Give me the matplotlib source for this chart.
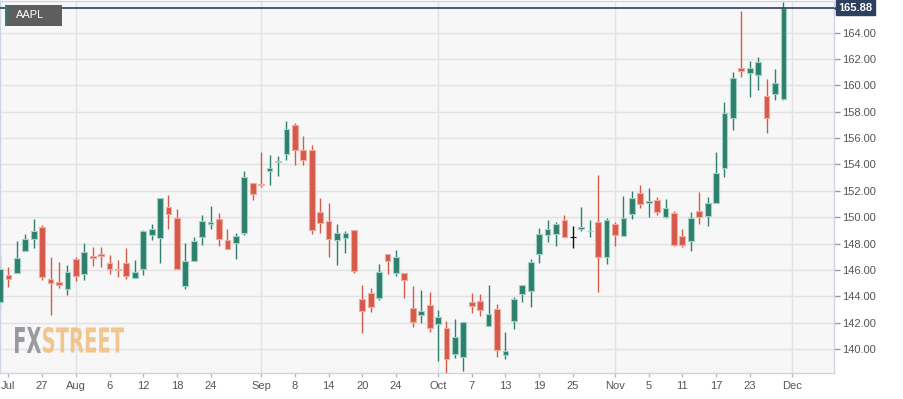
import matplotlib
matplotlib.use("Agg")
import matplotlib.pyplot as plt
import matplotlib.transforms as mtransforms
from matplotlib.textpath import TextPath
from matplotlib.patches import PathPatch, Rectangle
from matplotlib.font_manager import FontProperties

plt.rcParams['font.family'] = ['Liberation Sans', 'DejaVu Sans']

# trading sessions shown on the chart
dates = ["Jul 20", "Jul 21", "Jul 22", "Jul 23", "Jul 26", "Jul 27", "Jul 28", "Jul 29", "Jul 30",
         "Aug 2", "Aug 3", "Aug 4", "Aug 5", "Aug 6", "Aug 9", "Aug 10", "Aug 11", "Aug 12", "Aug 13",
         "Aug 16", "Aug 17", "Aug 18", "Aug 19", "Aug 20", "Aug 23", "Aug 24", "Aug 25", "Aug 26",
         "Aug 27", "Aug 30", "Aug 31",
         "Sep 1", "Sep 2", "Sep 3", "Sep 7", "Sep 8", "Sep 9", "Sep 10", "Sep 13", "Sep 14", "Sep 15",
         "Sep 16", "Sep 17", "Sep 20", "Sep 21", "Sep 22", "Sep 23", "Sep 24", "Sep 27", "Sep 28",
         "Sep 29", "Sep 30",
         "Oct 1", "Oct 4", "Oct 5", "Oct 6", "Oct 7", "Oct 8", "Oct 11", "Oct 12", "Oct 13", "Oct 14",
         "Oct 15", "Oct 18", "Oct 19", "Oct 20", "Oct 21", "Oct 22", "Oct 25", "Oct 26", "Oct 27",
         "Oct 28", "Oct 29",
         "Nov 1", "Nov 2", "Nov 3", "Nov 4", "Nov 5", "Nov 8", "Nov 9", "Nov 10", "Nov 11", "Nov 12",
         "Nov 15", "Nov 16", "Nov 17", "Nov 18", "Nov 19", "Nov 22", "Nov 23", "Nov 24", "Nov 26",
         "Nov 29", "Nov 30"]

opens = [143.54, 145.59, 145.79, 147.46, 148.37, 149.28, 145.31, 145.08, 144.55,
         146.83, 145.67, 147.03, 147.18, 146.50, 146.10, 146.55, 145.39, 146.04, 148.62,
         148.45, 150.77, 149.96, 144.78, 146.68, 148.50, 149.48, 149.84, 148.27,
         148.04, 148.83, 152.57,
         152.55, 153.53, 154.16, 154.77, 157.02, 155.12, 155.07, 150.39, 149.74, 148.27,
         148.42, 149.03, 143.77, 144.22, 143.84, 147.21, 145.79, 145.79, 143.09,
         142.58, 143.34,
         141.90, 141.57, 139.62, 139.42, 143.54, 143.67, 141.77, 143.01, 139.58, 142.15,
         144.17, 144.40, 147.21, 148.65, 148.70, 149.79, 148.52, 149.08, 148.93,
         149.61, 146.95,
         149.48, 148.60, 150.24, 151.81, 151.05, 151.31, 150.04, 150.34, 148.60, 148.19,
         150.47, 150.09, 151.05, 153.71, 157.50, 161.35, 160.97, 160.76, 159.20,
         159.32, 158.97]
highs = [147.06, 146.20, 148.17, 148.73, 149.84, 149.41, 146.95, 146.60, 146.35,
         146.95, 148.02, 147.76, 147.76, 147.11, 146.75, 147.69, 146.73, 149.05, 149.48,
         151.46, 151.68, 150.65, 148.04, 148.47, 150.14, 150.82, 150.32, 149.08,
         148.78, 153.48, 152.57,
         154.97, 154.69, 154.67, 157.30, 157.12, 156.14, 155.45, 151.43, 151.08, 149.46,
         148.95, 149.03, 144.83, 144.60, 146.42, 147.21, 147.51, 145.79, 144.78,
         144.48, 144.35,
         142.96, 142.15, 142.25, 142.07, 144.22, 144.15, 144.83, 143.41, 141.32, 143.97,
         144.83, 146.80, 149.16, 149.79, 149.66, 150.17, 149.36, 150.80, 149.79,
         153.20, 149.91,
         149.66, 151.61, 151.99, 152.44, 152.19, 151.56, 151.38, 150.50, 149.08, 150.37,
         151.89, 151.51, 154.97, 158.72, 161.04, 165.67, 161.85, 162.13, 160.46,
         161.22, 166.30]
lows = [143.01, 144.68, 145.79, 147.46, 147.69, 145.24, 142.58, 144.60, 144.10,
        145.18, 145.24, 146.30, 146.20, 145.69, 145.49, 145.31, 145.39, 145.59, 148.24,
        146.50, 149.08, 146.10, 144.55, 146.68, 147.87, 149.13, 147.79, 147.56,
        146.80, 148.62, 151.28,
        152.32, 152.42, 153.15, 154.34, 153.99, 153.94, 148.70, 148.78, 146.95, 146.37,
        147.26, 145.74, 141.24, 142.78, 143.72, 145.67, 145.54, 143.84, 141.69,
        142.00, 141.32,
        139.11, 138.20, 139.34, 138.36, 142.76, 142.50, 141.77, 139.37, 139.22, 141.52,
        143.54, 143.21, 146.55, 148.14, 147.81, 148.52, 147.64, 148.98, 148.47,
        144.35, 146.45,
        147.81, 148.60, 149.86, 150.67, 150.04, 150.17, 149.91, 147.81, 147.71, 147.46,
        149.48, 149.33, 151.05, 153.02, 156.62, 160.61, 159.09, 159.65, 156.36,
        158.89, 158.87]
closes = [146.04, 145.34, 146.93, 148.32, 148.93, 145.49, 144.98, 144.88, 145.87,
          145.51, 147.33, 146.90, 147.06, 146.10, 145.99, 145.56, 145.84, 148.95, 149.08,
          151.46, 150.24, 146.10, 146.70, 148.17, 149.69, 149.64, 148.35, 147.56,
          148.60, 153.08, 151.79,
          152.42, 153.71, 154.29, 156.69, 155.12, 154.31, 149.03, 149.59, 148.37, 148.83,
          148.78, 145.94, 142.86, 143.21, 145.84, 146.68, 146.95, 145.24, 142.02,
          142.88, 141.57,
          142.40, 139.22, 140.94, 142.07, 143.26, 142.96, 142.66, 139.90, 139.83, 143.79,
          144.83, 146.60, 148.73, 149.08, 149.48, 148.52, 148.52, 149.23, 148.98,
          146.95, 149.79,
          148.67, 149.91, 151.48, 150.98, 151.25, 150.37, 150.67, 147.89, 147.89, 149.96,
          149.99, 151.10, 153.33, 157.93, 160.54, 161.09, 161.30, 161.80, 157.50,
          160.16, 165.88]

# empty sessions to the right of the last candle
future_days = ["Dec 1", "Dec 2", "Dec 3", "Dec 6", "Dec 7", "Dec 8"]
axis_days = dates + future_days

tick_days = ["Jul 21", "Jul 27", "Aug 2", "Aug 6", "Aug 12", "Aug 18", "Aug 24", "Sep 1", "Sep 8",
             "Sep 14", "Sep 20", "Sep 24", "Oct 1", "Oct 7", "Oct 13", "Oct 19", "Oct 25", "Nov 1",
             "Nov 5", "Nov 11", "Nov 17", "Nov 23", "Dec 1"]
tick_labels = ["Jul", "27", "Aug", "6", "12", "18", "24", "Sep", "8", "14", "20", "24", "Oct", "7",
               "13", "19", "25", "Nov", "5", "11", "17", "23", "Dec"]
month_days = ["Aug 2", "Sep 1", "Oct 1", "Nov 1", "Dec 1"]

y_ticks = [140, 142, 144, 146, 148, 150, 152, 154, 156, 158, 160, 162, 164]
last_price = closes[-1]
symbol = "AAPL"

GREEN = "#2e806e"
GREEN_EDGE = "#a3d0c5"
RED = "#d65a4a"
RED_EDGE = "#efaaa1"
NAVY = "#2d4060"

W, H = 904, 399
fig = plt.figure(figsize=(W / 100, H / 100), dpi=100)
ax = fig.add_axes([0.0, 26 / H, 834 / W, 372 / H])
ax.set_facecolor("#f7f7f7")

xs = list(range(len(dates)))
colors, edges = [], []
for o, c in zip(opens, closes):
    if c > o:
        colors.append(GREEN); edges.append(GREEN_EDGE)
    elif c < o:
        colors.append(RED); edges.append(RED_EDGE)
    else:
        colors.append("#111111"); edges.append("#111111")

ax.vlines(xs, lows, highs, colors=colors, linewidth=1.0, zorder=2)
ax.bar(xs, [abs(c - o) for o, c in zip(opens, closes)],
       bottom=[min(o, c) for o, c in zip(opens, closes)],
       width=0.68, color=colors, edgecolor=edges, linewidth=0.8, zorder=3)

ax.axhline(last_price, color=NAVY, linewidth=1.2, zorder=4)

ax.set_xlim(0, axis_days.index("Dec 8"))
ax.set_ylim(138.18, 166.40)

# grid
for d in month_days:
    ax.axvline(axis_days.index(d), color="#e2e2e2", linewidth=1.0, zorder=0)
for v in y_ticks:
    ax.axhline(v, color="#e2e2e2", linewidth=1.0, zorder=0)

ax.set_xticks([axis_days.index(d) for d in tick_days])
ax.set_xticklabels(tick_labels)
ax.yaxis.tick_right()
ax.set_yticks(y_ticks)
ax.set_yticklabels(["%.2f" % v for v in y_ticks])
ax.tick_params(axis="x", length=3, width=1, color="#b8b8b8", labelsize=8, labelcolor="#555555", pad=3)
ax.tick_params(axis="y", length=4, width=1, color="#999999", labelsize=8, labelcolor="#555555", pad=2)
for s in ax.spines.values():
    s.set_color("#cdd4e3")
    s.set_linewidth(1.0)

# last price tag
tr = mtransforms.blended_transform_factory(ax.transAxes, ax.transData)
ax.text(1.005, last_price, "%.2f" % last_price, transform=tr, ha="left", va="center",
        color="white", fontsize=8, fontweight="bold", clip_on=False, zorder=6,
        bbox=dict(boxstyle="square,pad=0.22", facecolor=NAVY, edgecolor=NAVY))
ax.plot([1.0035], [last_price], marker="<", markersize=4, color=NAVY, transform=tr,
        clip_on=False, zorder=6)


def px_rect(x0, y0, x1, y1, color):
    fig.add_artist(Rectangle((x0 / W, 1 - y1 / H), (x1 - x0) / W, (y1 - y0) / H,
                             transform=fig.transFigure, facecolor=color, edgecolor="none", zorder=5))


# symbol label
px_rect(5, 5, 62, 26, "#5e5e5e")
px_rect(5, 5, 7, 26, GREEN)
fig.text(16 / W, 1 - 15.5 / H, symbol, color="white", fontsize=8, ha="left", va="center", zorder=6)

# watermark
fp = FontProperties(family="DejaVu Sans", weight="bold")


def stretched(s, x0, y0, x1, y1, color):
    tp = TextPath((0, 0), s, size=20, prop=fp)
    bb = tp.get_extents()
    t = (mtransforms.Affine2D().translate(-bb.x0, -bb.y0)
         .scale((x1 - x0) / bb.width / 100, (y1 - y0) / bb.height / 100)
         .translate(x0 / 100, (H - y1) / 100) + fig.dpi_scale_trans)
    fig.add_artist(PathPatch(tp, transform=t, facecolor=color, edgecolor="none", alpha=0.9, zorder=5))


stretched("FX", 15, 327, 41, 353, "#8e9097")
stretched("STREET", 43, 327, 124, 353, "#f1c083")

fig.savefig("out.png", dpi=100)
